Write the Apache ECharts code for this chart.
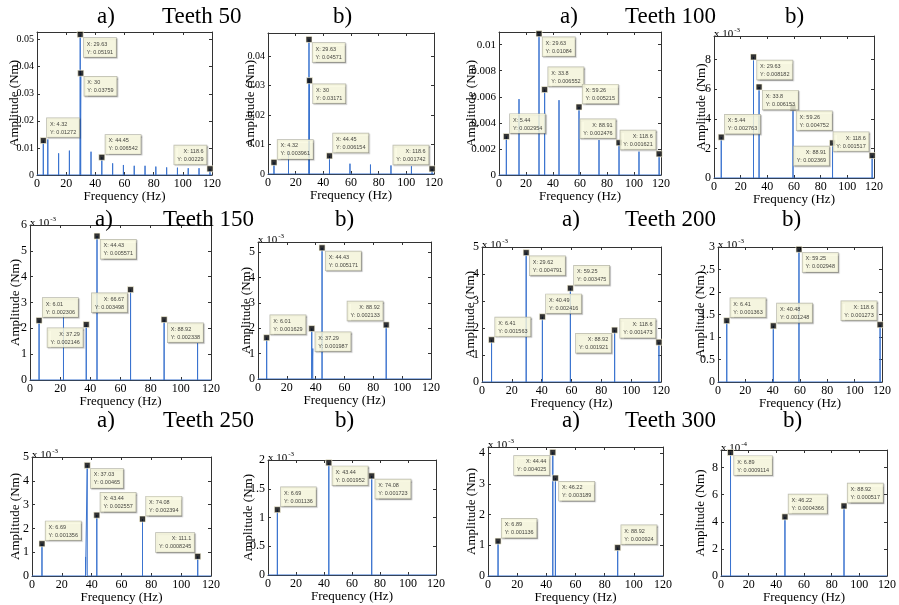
<!DOCTYPE html>
<html><head><meta charset="utf-8">
<script src="https://cdn.jsdelivr.net/npm/echarts@6/dist/echarts.min.js"></script>
<style>html,body{margin:0;padding:0;background:#fff}#c{width:899px;height:605px}</style>
</head><body><div id="c"></div>
<script>
// ---------- DATA ----------
const xTickValues = [0, 20, 40, 60, 80, 100, 120];
const titleTexts = ['a)', 'Teeth 50', 'b)', 'a)', 'Teeth 100', 'b)',
                    'a)', 'Teeth 150', 'b)', 'a)', 'Teeth 200', 'b)',
                    'a)', 'Teeth 250', 'b)', 'a)', 'Teeth 300', 'b)'];

// Teeth 50 a)
const p1PeakF = [4.32, 7.41, 14.82, 22.22, 29.63, 30, 37.04, 44.45, 51.86, 59.26, 66.67, 74.08, 81.49, 88.9, 96.3, 103.7, 111.1, 118.6];
const p1PeakA = [0.01272, 0.0131, 0.0080, 0.0090, 0.05191, 0.03759, 0.0086, 0.006542, 0.0043, 0.0037, 0.0034, 0.0034, 0.0031, 0.0028, 0.0027, 0.0025, 0.0025, 0.00229];
const p1TipF = [4.32, 29.63, 30, 44.45, 118.6];
const p1TipA = [0.01272, 0.05191, 0.03759, 0.006542, 0.00229];
// Teeth 50 b)
const p2PeakF = [4.32, 14.82, 29.63, 30, 44.45, 59.26, 74.08, 88.9, 103.7, 118.6];
const p2PeakA = [0.003961, 0.0077, 0.04571, 0.03171, 0.006154, 0.0035, 0.0032, 0.0029, 0.0026, 0.001742];
const p2TipF = [4.32, 29.63, 30, 44.45, 118.6];
const p2TipA = [0.003961, 0.04571, 0.03171, 0.006154, 0.001742];
// Teeth 100 a)
const p3PeakF = [5.44, 14.82, 29.63, 33.8, 44.45, 59.26, 74.08, 88.91, 103.7, 118.6];
const p3PeakA = [0.002954, 0.00582, 0.01084, 0.006552, 0.00574, 0.005215, 0.00268, 0.002476, 0.00179, 0.001621];
const p3TipF = [5.44, 29.63, 33.8, 59.26, 88.91, 118.6];
const p3TipA = [0.002954, 0.01084, 0.006552, 0.005215, 0.002476, 0.001621];
// Teeth 100 b)
const p4PeakF = [5.44, 29.63, 33.8, 59.26, 88.91, 118.6];
const p4PeakA = [0.002763, 0.008182, 0.006153, 0.004752, 0.002369, 0.001517];
const p4TipF = [5.44, 29.63, 33.8, 59.26, 88.91, 118.6];
const p4TipA = [0.002763, 0.008182, 0.006153, 0.004752, 0.002369, 0.001517];
// Teeth 150 a)
const p5PeakF = [6.01, 22.2, 37.29, 44.43, 66.67, 88.92, 111.1];
const p5PeakA = [0.002306, 0.0025, 0.002146, 0.005571, 0.003498, 0.002338, 0.00142];
const p5TipF = [6.01, 37.29, 44.43, 66.67, 88.92];
const p5TipA = [0.002306, 0.002146, 0.005571, 0.003498, 0.002338];
// Teeth 150 b)
const p6PeakF = [6.01, 37.29, 38.0, 44.43, 88.92];
const p6PeakA = [0.001629, 0.001987, 0.0012, 0.005171, 0.002133];
const p6TipF = [6.01, 37.29, 44.43, 88.92];
const p6TipA = [0.001629, 0.001987, 0.005171, 0.002133];
// Teeth 200 a)
const p7PeakF = [6.41, 29.62, 40.49, 59.25, 88.92, 118.6];
const p7PeakA = [0.001563, 0.004791, 0.002416, 0.003475, 0.001921, 0.001473];
const p7TipF = [6.41, 29.62, 40.49, 59.25, 88.92, 118.6];
const p7TipA = [0.001563, 0.004791, 0.002416, 0.003475, 0.001921, 0.001473];
// Teeth 200 b)
const p8PeakF = [6.41, 40.48, 59.25, 118.6];
const p8PeakA = [0.001363, 0.001248, 0.002948, 0.001273];
const p8TipF = [6.41, 40.48, 59.25, 118.6];
const p8TipA = [0.001363, 0.001248, 0.002948, 0.001273];
// Teeth 250 a)
const p9PeakF = [6.69, 35.9, 37.03, 43.44, 74.08, 111.1];
const p9PeakA = [0.001356, 0.0008, 0.00465, 0.002557, 0.002394, 0.0008245];
const p9TipF = [6.69, 37.03, 43.44, 74.08, 111.1];
const p9TipA = [0.001356, 0.00465, 0.002557, 0.002394, 0.0008245];
// Teeth 250 b)
const p10PeakF = [6.69, 43.44, 74.08];
const p10PeakA = [0.001136, 0.001952, 0.001723];
const p10TipF = [6.69, 43.44, 74.08];
const p10TipA = [0.001136, 0.001952, 0.001723];
// Teeth 300 a)
const p11PeakF = [6.89, 44.44, 46.22, 88.92];
const p11PeakA = [0.001136, 0.004025, 0.003189, 0.000924];
const p11TipF = [6.89, 44.44, 46.22, 88.92];
const p11TipA = [0.001136, 0.004025, 0.003189, 0.000924];
// Teeth 300 b)
const p12PeakF = [6.89, 46.22, 88.92];
const p12PeakA = [0.0009114, 0.0004366, 0.000517];
const p12TipF = [6.89, 46.22, 88.92];
const p12TipA = [0.0009114, 0.0004366, 0.000517];

const panels = [
  [p1PeakF, p1PeakA, p1TipF, p1TipA], [p2PeakF, p2PeakA, p2TipF, p2TipA],
  [p3PeakF, p3PeakA, p3TipF, p3TipA], [p4PeakF, p4PeakA, p4TipF, p4TipA],
  [p5PeakF, p5PeakA, p5TipF, p5TipA], [p6PeakF, p6PeakA, p6TipF, p6TipA],
  [p7PeakF, p7PeakA, p7TipF, p7TipA], [p8PeakF, p8PeakA, p8TipF, p8TipA],
  [p9PeakF, p9PeakA, p9TipF, p9TipA], [p10PeakF, p10PeakA, p10TipF, p10TipA],
  [p11PeakF, p11PeakA, p11TipF, p11TipA], [p12PeakF, p12PeakA, p12TipF, p12TipA]
];

// ---------- LAYOUT / AXIS SETTINGS ----------
const layout = [
  {l:37,  t:32,  w:175, h:143, ymax:0.0528,  step:0.01,   exp:0,  yGap:23, yFont:10, tips:['ra','rb','rb','ra','la']},
  {l:268, t:33,  w:166, h:141, ymax:0.0479,  step:0.01,   exp:0,  yGap:18, yFont:10, tips:['ra','rb','rb','ra','la']},
  {l:499, t:32,  w:162, h:143, ymax:0.01097, step:0.002,  exp:0,  yGap:28, yFont:11, tips:['ra','rb','ra','ra','la','la']},
  {l:714, t:36,  w:160, h:142, ymax:0.0096,  step:0.002,  exp:-3, yGap:13, yFont:12, tips:['ra','rb','rb','rb','lb','la']},
  {l:30,  t:225, w:181, h:155, ymax:0.006,   step:0.001,  exp:-3, yGap:15, yFont:12, tips:['ra','lb','rb','lb','rb']},
  {l:258, t:242, w:173, h:137, ymax:0.0054,  step:0.001,  exp:-3, yGap:12, yFont:12, tips:['ra','rb','rb','la']},
  {l:482, t:247, w:179, h:135, ymax:0.005,   step:0.001,  exp:-3, yGap:12, yFont:12, tips:['ra','rb','ra','ra','lb','la']},
  {l:718, t:247, w:164, h:135, ymax:0.003,   step:0.0005, exp:-3, yGap:18, yFont:12, tips:['ra','ra','rb','la']},
  {l:32,  t:457, w:179, h:119, ymax:0.005,   step:0.001,  exp:-3, yGap:17, yFont:12, tips:['ra','rb','ra','ra','la']},
  {l:268, t:460, w:168, h:115, ymax:0.002,   step:0.0005, exp:-3, yGap:20, yFont:12, tips:['ra','rb','rb']},
  {l:488, t:447, w:175, h:133, ymax:0.0042,  step:0.001,  exp:-3, yGap:17, yFont:12, tips:['ra','lb','rb','ra']},
  {l:721, t:450, w:169, h:132, ymax:0.00093, step:0.0002, exp:-4, yGap:21, yFont:12, tips:['rb','ra','ra']}
];
const titlePos = [
  [97,5],[162,5],[333,5],[560,5],[625,5],[785,5],
  [95,208],[163,208],[335,208],[562,208],[625,208],[782,208],
  [97,409],[163,409],[335,409],[562,409],[625,409],[783,409]
];

const SERIF = 'Liberation Serif, Times New Roman, serif';
const SANS = 'Liberation Sans, Arial, sans-serif';
const LINE = '#3a73cf';
const AX = '#333';
const S = 6;

function spikes(F, A) {
  const idx = F.map((f, i) => i).sort((a, b) => F[a] - F[b]);
  const d = [[0, 0]];
  idx.forEach(i => { d.push([F[i], 0], [F[i], A[i]], [F[i], 0]); });
  d.push([120, 0]);
  return d;
}
function place(code) {
  switch (code) {
    case 'rb': return {position: [S + 1, S + 1], align: 'left', verticalAlign: 'top'};
    case 'ra': return {position: [S + 1, 0], align: 'left', verticalAlign: 'bottom'};
    case 'la': return {position: [0, -1], align: 'right', verticalAlign: 'bottom'};
    default:   return {position: [0, S + 1], align: 'right', verticalAlign: 'top'};
  }
}
function fmtNum(v) { return String(Number(v.toPrecision(6))); }

const grid = [], xAxis = [], yAxis = [], series = [], graphic = [];
const title = titleTexts.map((t, i) => ({
  text: t, left: titlePos[i][0], top: titlePos[i][1], padding: 0,
  textStyle: {fontFamily: SERIF, fontSize: 23, fontWeight: 'normal', color: '#000'}
}));

layout.forEach((L, i) => {
  grid.push({left: L.l, top: L.t, width: L.w, height: L.h, containLabel: false});
  const tick = {show: true, inside: true, length: 3, lineStyle: {color: AX}};
  const line = {show: true, onZero: false, lineStyle: {color: AX, width: 1}};
  xAxis.push({
    type: 'value', gridIndex: i, min: 0, max: 120, interval: 20, position: 'bottom',
    axisLine: line, axisTick: tick, splitLine: {show: false},
    axisLabel: {fontFamily: SERIF, fontSize: 12, color: '#000', margin: 3,
      formatter: v => (xTickValues.indexOf(v) >= 0 ? String(v) : '')},
    name: 'Frequency (Hz)', nameLocation: 'middle', nameGap: 15, nameMoveOverlap: false,
    nameTextStyle: {fontFamily: SERIF, fontSize: 13, color: '#000'}
  });
  xAxis.push({
    type: 'value', gridIndex: i, min: 0, max: 120, interval: 20, position: 'top',
    axisLine: line, axisTick: tick, axisLabel: {show: false}, splitLine: {show: false}
  });
  const sc = L.exp ? Math.pow(10, L.exp) : 1;
  yAxis.push({
    type: 'value', gridIndex: i, min: 0, max: L.ymax, interval: L.step, position: 'left',
    axisLine: line, axisTick: tick, splitLine: {show: false},
    axisLabel: {fontFamily: SERIF, fontSize: L.yFont, color: '#000', margin: 3,
      formatter: v => {
        const k = v / L.step;
        if (Math.abs(k - Math.round(k)) > 1e-6) return '';
        return fmtNum(v / sc);
      }},
    name: 'Amplitude (Nm)', nameLocation: 'middle', nameGap: L.yGap - 7, nameMoveOverlap: false,
    nameTextStyle: {fontFamily: SERIF, fontSize: 13, color: '#000'}
  });
  yAxis.push({
    type: 'value', gridIndex: i, min: 0, max: L.ymax, interval: L.step, position: 'right',
    axisLine: line, axisTick: tick, axisLabel: {show: false}, splitLine: {show: false}
  });
  const [F, A, TF, TA] = panels[i];
  series.push({
    type: 'line', xAxisIndex: 2 * i, yAxisIndex: 2 * i, data: spikes(F, A),
    showSymbol: false, symbol: 'none', lineStyle: {color: LINE, width: 1}, silent: true,
    animation: false, clip: true, z: 2
  });
  series.push({
    type: 'scatter', xAxisIndex: 2 * i, yAxisIndex: 2 * i, symbol: 'rect', symbolSize: S,
    itemStyle: {color: '#000', borderColor: '#fffbe0', borderWidth: 0.8},
    animation: false, z: 5,
    data: TF.map((f, k) => ({value: [f, TA[k]], label: place(L.tips[k])})),
    label: {
      show: true, fontFamily: SANS, fontSize: 5.5, lineHeight: 8, color: '#111',
      backgroundColor: '#ffffe4', borderColor: '#a9a99a', borderWidth: 0.7,
      padding: [2, 3, 1, 3],
      shadowColor: 'rgba(0,0,0,0.25)', shadowOffsetX: 1, shadowOffsetY: 1, shadowBlur: 1,
      formatter: p => 'X: ' + p.value[0] + '\nY: ' + p.value[1]
    }
  });
  if (L.exp) {
    graphic.push({
      type: 'text', left: L.l, top: L.t - 9, silent: true,
      style: {
        text: '{a|x 10}{b|' + L.exp + '}',
        rich: {
          a: {fontFamily: SERIF, fontSize: 11, fill: '#000', verticalAlign: 'bottom'},
          b: {fontFamily: SERIF, fontSize: 7, fill: '#000', verticalAlign: 'top', padding: [0, 0, 6, 1]}
        }
      }
    });
  }
});

const chart = echarts.init(document.getElementById('c'), null, {renderer: 'canvas'});
chart.setOption({
  backgroundColor: '#fff', animation: false,
  title, grid, xAxis, yAxis, series, graphic
});
</script>
</body></html>
